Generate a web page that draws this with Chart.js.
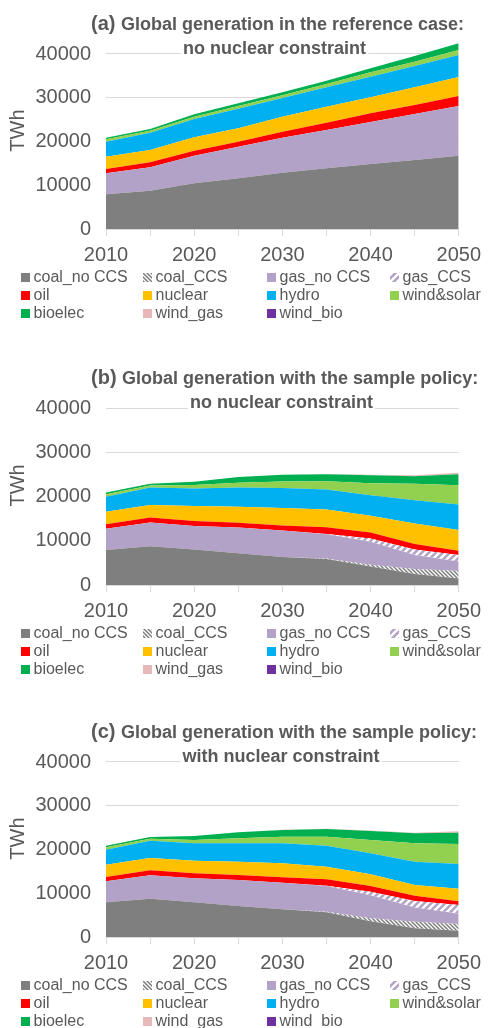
<!DOCTYPE html>
<html>
<head>
<meta charset="utf-8">
<script src="https://cdn.jsdelivr.net/npm/chart.js@4.4.1/dist/chart.umd.min.js"></script>
<style>
  html, body { margin: 0; padding: 0; background: #ffffff; overflow: hidden; }
  .panel { position: absolute; left: 0; width: 488px; height: 355px; }
</style>
</head>
<body>
<div class="panel" style="top:0px"><canvas id="chartA"></canvas></div>
<div class="panel" style="top:355px"><canvas id="chartB"></canvas></div>
<div class="panel" style="top:708px"><canvas id="chartC"></canvas></div>
<script>
// ---- categories and labels ----
const years = ['2010', '2015', '2020', '2025', '2030', '2035', '2040', '2045', '2050'];
const yearLabels = ['2010', '2020', '2030', '2040', '2050'];
const yTickValues = [0, 10000, 20000, 30000, 40000];
const seriesNames = ['coal_no CCS', 'coal_CCS', 'gas_no CCS', 'gas_CCS', 'oil', 'nuclear',
                     'hydro', 'wind&solar', 'bioelec', 'wind_gas', 'wind_bio'];

// ---- (a) reference case, TWh ----
const refCoal      = [7930, 8760, 10450, 11580, 12870, 13870, 14860, 15770, 16760];
const refCoalCCS   = [0, 0, 0, 0, 0, 0, 0, 0, 0];
const refGas       = [4800, 5340, 6310, 7240, 8000, 8760, 9600, 10520, 11360];
const refGasCCS    = [0, 0, 0, 0, 0, 0, 0, 0, 0];
const refOil       = [990, 1140, 1140, 1140, 1370, 1670, 1990, 2060, 2280];
const refNuclear   = [2810, 2820, 3060, 3050, 3440, 3660, 3660, 4040, 4350];
const refHydro     = [3430, 3960, 4190, 4500, 4250, 4430, 4710, 4870, 5030];
const refWindSolar = [540, 460, 530, 610, 650, 760, 1000, 990, 1140];
const refBio       = [380, 380, 540, 610, 680, 750, 920, 1300, 1520];
const refWindGas   = [0, 0, 0, 0, 0, 0, 0, 0, 0];
const refWindBio   = [0, 0, 0, 0, 0, 0, 0, 0, 0];

// ---- (b) sample policy, no nuclear constraint, TWh ----
const polCoal      = [7930, 8760, 8050, 7150, 6300, 5850, 4200, 2500, 1450];
const polCoalCCS   = [0, 0, 0, 0, 30, 150, 400, 1100, 1700];
const polGas       = [4800, 5340, 5270, 5870, 5970, 5450, 5200, 3200, 2150];
const polGasCCS    = [0, 0, 0, 0, 0, 100, 700, 1250, 1500];
const polOil       = [990, 1140, 1120, 1050, 1150, 1500, 1350, 1200, 950];
const polNuclear   = [2810, 2820, 3390, 3610, 3950, 4000, 3800, 4670, 4660];
const polHydro     = [3430, 3960, 3990, 4370, 4500, 4550, 4660, 5260, 5790];
const polWindSolar = [540, 460, 800, 1050, 1500, 1850, 2690, 3720, 4370];
const polBio       = [380, 380, 700, 1300, 1500, 1600, 1830, 1700, 2480];
const polWindGas   = [0, 0, 0, 0, 0, 50, 100, 200, 300];
const polWindBio   = [0, 0, 0, 0, 0, 0, 0, 0, 0];

// ---- (c) sample policy, with nuclear constraint, TWh ----
const ncCoal      = [7930, 8760, 7930, 7090, 6330, 5640, 3600, 2000, 1450];
const ncCoalCCS   = [0, 0, 0, 0, 30, 160, 670, 1500, 1500];
const ncGas       = [4800, 5340, 5480, 5940, 6060, 5860, 5280, 3230, 2350];
const ncGasCCS    = [0, 0, 0, 0, 0, 40, 800, 1500, 2000];
const ncOil       = [990, 1140, 1190, 1140, 1220, 1480, 1310, 1220, 850];
const ncNuclear   = [2810, 2820, 2850, 3050, 3200, 2900, 2670, 2440, 2900];
const ncHydro     = [3430, 3960, 3960, 4190, 4570, 4800, 4800, 5330, 5650];
const ncWindSolar = [540, 460, 760, 1150, 1530, 2060, 3040, 4190, 4560];
const ncBio       = [380, 380, 920, 1370, 1520, 1750, 2060, 2290, 2590];
const ncWindGas   = [0, 0, 0, 0, 50, 80, 120, 150, 300];
const ncWindBio   = [0, 0, 0, 0, 0, 0, 0, 0, 0];

// ---- styling ----
const FONT = '"Liberation Sans", Arial, Helvetica, sans-serif';
const TEXT = '#595959';
const GRID = '#d9d9d9';

function hatch(fg, bg, size, width, upward) {
  const c = document.createElement('canvas');
  c.width = c.height = size;
  const g = c.getContext('2d');
  g.fillStyle = bg;
  g.fillRect(0, 0, size, size);
  g.strokeStyle = fg;
  g.lineWidth = width;
  g.beginPath();
  for (let k = -1; k <= 1; k++) {
    if (upward) {
      g.moveTo(k * size - 1, size + 1);
      g.lineTo(k * size + size + 1, -1);
    } else {
      g.moveTo(k * size - 1, -1);
      g.lineTo(k * size + size + 1, size + 1);
    }
  }
  g.stroke();
  return g.createPattern(c, 'repeat');
}

const fills = [
  '#7f7f7f',
  hatch('#ffffff', '#7f7f7f', 4, 1.3, false),
  '#b3a2c7',
  hatch('#ffffff', '#b3a2c7', 7, 2.4, true),
  '#ff0000',
  '#ffc000',
  '#00b0f0',
  '#92d050',
  '#00b050',
  '#e6b9b8',
  '#7030a0'
];

// title over the plot area and four-column legend below the axis
const panelDecor = {
  id: 'panelDecor',
  afterDraw(chart, args, opts) {
    const ctx = chart.ctx;
    ctx.save();
    // title
    ctx.textBaseline = 'alphabetic';
    ctx.textAlign = 'left';
    const pf = 'bold 20px ' + FONT, tf = 'bold 18px ' + FONT;
    ctx.font = pf;
    const wp = ctx.measureText(opts.prefix + ' ').width;
    ctx.font = tf;
    const w1 = ctx.measureText(opts.line1).width;
    const w2 = ctx.measureText(opts.line2).width;
    const left = 91;
    const cx = left + (wp + w1) / 2;
    const x2 = cx - 3 - w2 / 2;
    ctx.fillStyle = '#ffffff';
    ctx.fillRect(left - 2, opts.base1 - 17, wp + w1 + 4, 23);
    ctx.fillRect(x2 - 2, opts.base2 - 16, w2 + 4, 22);
    ctx.fillStyle = TEXT;
    ctx.font = pf;
    ctx.fillText(opts.prefix + ' ', left, opts.base1);
    ctx.font = tf;
    ctx.fillText(opts.line1, left + wp, opts.base1);
    ctx.fillText(opts.line2, x2, opts.base2);

    // legend
    const cols = [21, 143, 267, 390];
    const rowY = [48.5, 66.5, 84.5].map(d => chart.chartArea.bottom + d);
    ctx.font = '16px ' + FONT;
    ctx.textBaseline = 'middle';
    chart.data.datasets.forEach((ds, i) => {
      const cx0 = cols[i % 4];
      const cy = rowY[Math.floor(i / 4)];
      ctx.fillStyle = ds.backgroundColor;
      ctx.fillRect(cx0, cy - 4.5, 9, 9);
      ctx.fillStyle = TEXT;
      ctx.fillText(ds.label, cx0 + 12.5, cy + 0.5);
    });
    ctx.restore();
  }
};

function makeChart(id, title, values, zeroY, fortyY) {
  const pxPerUnit = (zeroY - fortyY) / 40000;
  const yMax = 45000;
  const top = zeroY - yMax * pxPerUnit;
  const xAxisH = 40;
  const datasets = seriesNames.map((name, i) => ({
    label: name,
    data: values[i],
    backgroundColor: fills[i],
    borderWidth: 0,
    pointRadius: 0,
    pointHoverRadius: 0,
    tension: 0,
    fill: i === 0 ? 'origin' : '-1'
  }));
  return new Chart(document.getElementById(id), {
    type: 'line',
    data: { labels: years, datasets },
    plugins: [panelDecor],
    options: {
      responsive: true,
      maintainAspectRatio: false,
      animation: false,
      events: [],
      layout: { padding: { top: top, right: 25, bottom: 355 - zeroY - xAxisH, left: 0 } },
      plugins: {
        legend: { display: false },
        tooltip: { enabled: false },
        title: { display: false },
        panelDecor: title
      },
      scales: {
        x: {
          type: 'category',
          offset: false,
          afterFit: s => { s.height = xAxisH; },
          grid: { display: true, drawOnChartArea: false, drawTicks: true, tickLength: 7, color: GRID, lineWidth: 1 },
          border: { display: true, color: GRID, width: 1 },
          ticks: {
            autoSkip: false,
            maxRotation: 0,
            padding: 7,
            color: TEXT,
            font: { family: FONT, size: 20 },
            callback: function (v) {
              const lab = this.getLabelForValue(v);
              return yearLabels.includes(lab) ? lab : '';
            }
          }
        },
        y: {
          stacked: true,
          min: 0,
          max: yMax,
          afterFit: s => { s.width = 106; },
          afterBuildTicks: s => { s.ticks = yTickValues.map(v => ({ value: v })); },
          grid: { color: GRID, lineWidth: 1, drawTicks: false },
          border: { display: false },
          ticks: { padding: 15, color: TEXT, font: { family: FONT, size: 20 }, callback: v => String(v) },
          title: { display: true, text: 'TWh', color: TEXT, font: { family: FONT, size: 20 }, padding: { top: 6, bottom: 0 } }
        }
      }
    }
  });
}

makeChart('chartA',
  { prefix: '(a)', line1: 'Global generation in the reference case:', line2: 'no nuclear constraint', base1: 29.5, base2: 54 },
  [refCoal, refCoalCCS, refGas, refGasCCS, refOil, refNuclear, refHydro, refWindSolar, refBio, refWindGas, refWindBio],
  229, 54);

makeChart('chartB',
  { prefix: '(b)', line1: 'Global generation with the sample policy:', line2: 'no nuclear constraint', base1: 28.5, base2: 52.5 },
  [polCoal, polCoalCCS, polGas, polGasCCS, polOil, polNuclear, polHydro, polWindSolar, polBio, polWindGas, polWindBio],
  230, 53);

makeChart('chartC',
  { prefix: '(c)', line1: 'Global generation with the sample policy:', line2: 'with nuclear constraint', base1: 30, base2: 54 },
  [ncCoal, ncCoalCCS, ncGas, ncGasCCS, ncOil, ncNuclear, ncHydro, ncWindSolar, ncBio, ncWindGas, ncWindBio],
  229, 54);
</script>
</body>
</html>
